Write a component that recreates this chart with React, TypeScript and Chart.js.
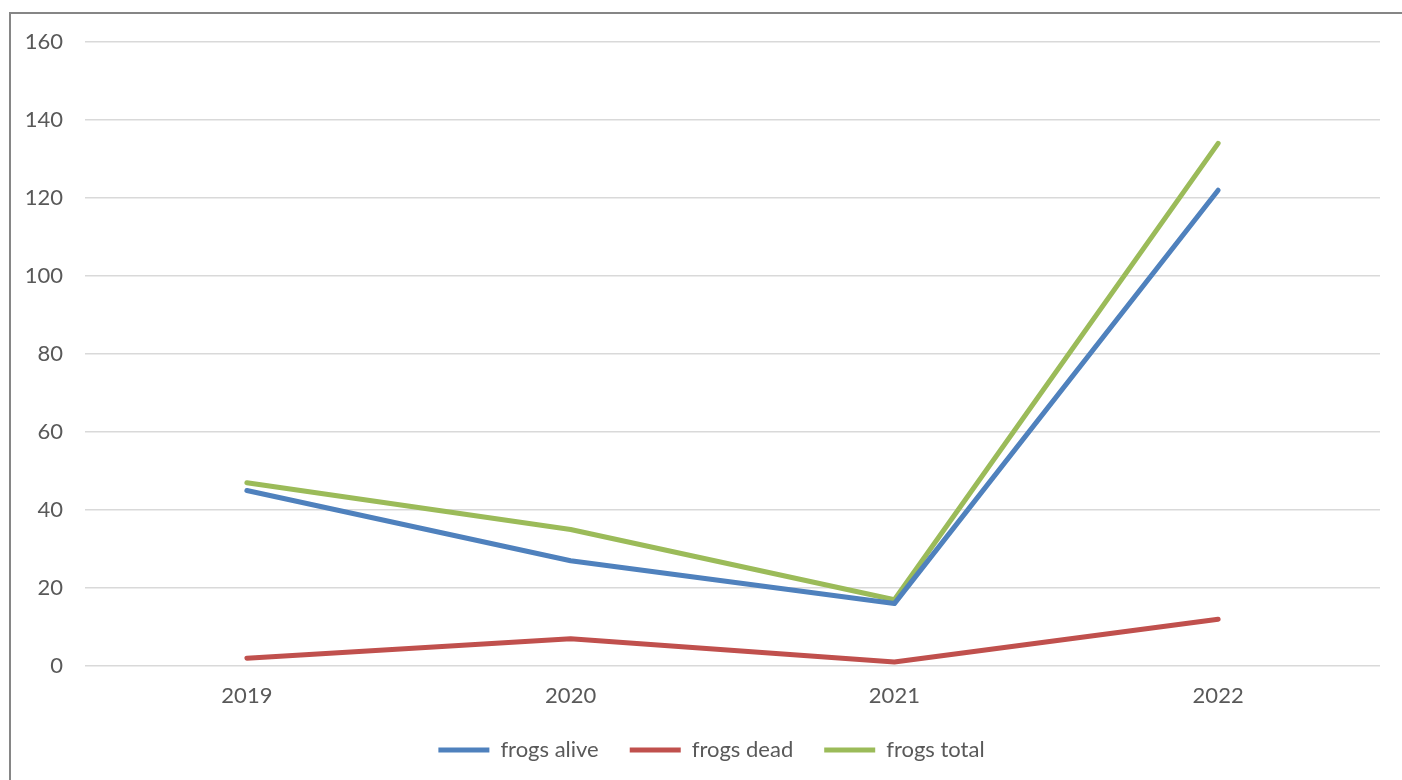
import { useEffect, useRef } from "react";
import Chart from "chart.js/auto";

const years = ["2019", "2020", "2021", "2022"];
const frogsAlive = [45, 27, 16, 122];
const frogsDead = [2, 7, 1, 12];
const frogsTotal = [47, 35, 17, 134];
const yMin = 0;
const yMax = 160;
const yStep = 20;

const FONT = "Lato, 'Open Sans', sans-serif";
const TEXT = "#595959";

const legendShift = {
  id: "legendShift",
  afterLayout(chart: any) {
    const lg = chart.legend;
    if (lg) {
      lg.left += 17;
      lg.right += 17;
    }
  },
};

export default function App() {
  const ref = useRef<HTMLCanvasElement | null>(null);

  useEffect(() => {
    const canvas = ref.current;
    if (!canvas) return;
    const chart = new Chart(canvas, {
      type: "line",
      data: {
        labels: years,
        datasets: [
          { label: "frogs alive", data: frogsAlive, borderColor: "#4F81BD", backgroundColor: "#4F81BD" },
          { label: "frogs dead", data: frogsDead, borderColor: "#C0504D", backgroundColor: "#C0504D" },
          { label: "frogs total", data: frogsTotal, borderColor: "#9BBB59", backgroundColor: "#9BBB59" },
        ].map((d) => ({
          ...d,
          borderWidth: 5,
          borderCapStyle: "round" as const,
          borderJoinStyle: "round" as const,
          pointRadius: 0,
          pointHoverRadius: 0,
          tension: 0,
          fill: false,
        })),
      },
      plugins: [legendShift],
      options: {
        responsive: false,
        maintainAspectRatio: false,
        animation: false,
        devicePixelRatio: 1,
        layout: { padding: { top: 30, right: 22, left: 0, bottom: 9 } },
        plugins: {
          tooltip: { enabled: false },
          legend: {
            position: "bottom",
            labels: {
              usePointStyle: true,
              pointStyle: "line",
              pointStyleWidth: 51,
              padding: 31,
              color: TEXT,
              font: { family: FONT, size: 22 },
            },
          },
        },
        scales: {
          x: {
            offset: true,
            grid: { display: false, drawTicks: false },
            border: { display: false },
            ticks: { color: TEXT, font: { family: FONT, size: 22 }, padding: 17 },
            afterFit: (s: any) => {
              s.height = 42;
            },
          },
          y: {
            min: yMin,
            max: yMax,
            grid: { color: "#d9d9d9", lineWidth: 1.5, drawTicks: false },
            border: { display: false },
            ticks: { stepSize: yStep, color: TEXT, font: { family: FONT, size: 22 }, padding: 22 },
            afterFit: (s: any) => {
              s.width = 76;
              s.paddingTop = 0;
              s.paddingBottom = 0;
            },
          },
        },
      },
    });
    return () => chart.destroy();
  }, []);

  return (
    <div
      style={{
        position: "absolute",
        left: 9,
        top: 12,
        width: 1393,
        height: 768,
        overflow: "hidden",
        background: "#fff",
      }}
    >
      <div
        style={{
          position: "absolute",
          left: 0,
          top: 0,
          width: 1500,
          height: 900,
          border: "2px solid #868686",
          boxSizing: "border-box",
        }}
      />
      <canvas ref={ref} width={1393} height={768} style={{ position: "absolute", left: 0, top: 0 }} />
    </div>
  );
}
